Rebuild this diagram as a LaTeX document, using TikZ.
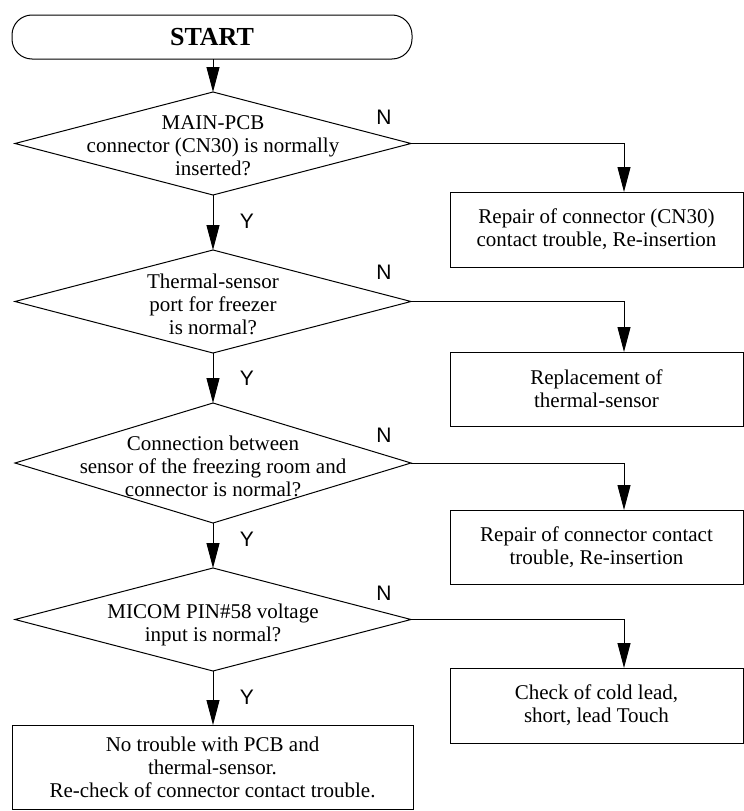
\documentclass[tikz,border=0pt]{standalone}
\usepackage{fontspec}
\setmainfont{Liberation Serif}
\newfontfamily\labfont{Liberation Sans}
\usetikzlibrary{shapes.geometric,arrows.meta,calc}
\tikzset{
  flow/.style={draw, line width=1pt, -{Triangle[length=25pt,width=13pt]}},
  dia/.style={draw, diamond, line width=1pt, minimum width=396pt, minimum height=103pt, inner sep=0pt, outer sep=0pt},
  txt/.style={align=center, font=\fontsize{21}{23}\selectfont, inner sep=0pt},
  box/.style={draw, rectangle, line width=1pt, minimum width=293pt, minimum height=75pt, align=center, font=\fontsize{21}{23}\selectfont, inner sep=0pt, outer sep=0pt},
  lab/.style={font=\labfont\fontsize{21}{21}\selectfont, inner sep=0pt},
  startbox/.style={draw, rectangle, rounded corners=20pt, line width=1pt, minimum width=400pt, minimum height=44pt, font=\bfseries\fontsize{26}{26}\selectfont, inner sep=0pt, outer sep=0pt}
}
\begin{document}
\begin{tikzpicture}[x=1pt,y=1pt]
\useasboundingbox (0,0) rectangle (744,-811);
\node[startbox] (start) at (212,-37) {START};
% decision 1
\node[dia] (d1) at (213,-143.5) {};
\node[txt] (t1) at (213,-146) {MAIN-PCB\\connector (CN30) is normally\\inserted?};
\node[box] (b1) at (596.5,-229.5) {Repair of connector (CN30)\\contact trouble, Re-insertion};
% decision 2
\node[dia] (d2) at (213,-301.5) {};
\node[txt] (t2) at (213,-304) {Thermal-sensor\\port for freezer\\is normal?};
\node[box, minimum height=74pt] (b2) at (596.5,-389) {Replacement of\\thermal-sensor};
% decision 3
\node[dia, minimum height=120pt] (d3) at (213,-463) {};
\node[txt] (t3) at (213,-466) {Connection between\\sensor of the freezing room and\\connector is normal?};
\node[box, minimum height=74pt] (b3) at (596.5,-547) {Repair of connector contact\\trouble, Re-insertion};
% decision 4
\node[dia] (d4) at (213,-619.5) {};
\node[txt] (t4) at (213,-625) {MICOM PIN\#58 voltage\\input is normal?};
\node[box] (b4) at (596.5,-705.5) {Check of cold lead,\\short, lead Touch};
% final
\node[box, minimum width=401pt, minimum height=84pt] (b5) at (212.5,-767) {No trouble with PCB and\\thermal-sensor.\\Re-check of connector contact trouble.};
% labels
\node[lab] (n1) at (384,-117) {N};
\node[lab] (n2) at (384,-272) {N};
\node[lab] (n3) at (384,-435) {N};
\node[lab] (n4) at (384,-593) {N};
\node[lab] (y1) at (247,-221) {Y};
\node[lab] (y2) at (247,-378) {Y};
\node[lab] (y3) at (247,-539) {Y};
\node[lab] (y4) at (247,-697) {Y};
% connectors
\draw[flow] (start.south -| d1) -- (d1);
\draw[flow] (d1) -- (d2);
\draw[flow] (d2) -- (d3);
\draw[flow] (d3) -- (d4);
\draw[flow] (d4) -- (b5.north -| d4);
\draw[flow] (d1.east) -| ([xshift=27.5pt]b1.north);
\draw[flow] (d2.east) -| ([xshift=27.5pt]b2.north);
\draw[flow] (d3.east) -| ([xshift=27.5pt]b3.north);
\draw[flow] (d4.east) -| ([xshift=27.5pt]b4.north);
\end{tikzpicture}
\end{document}
